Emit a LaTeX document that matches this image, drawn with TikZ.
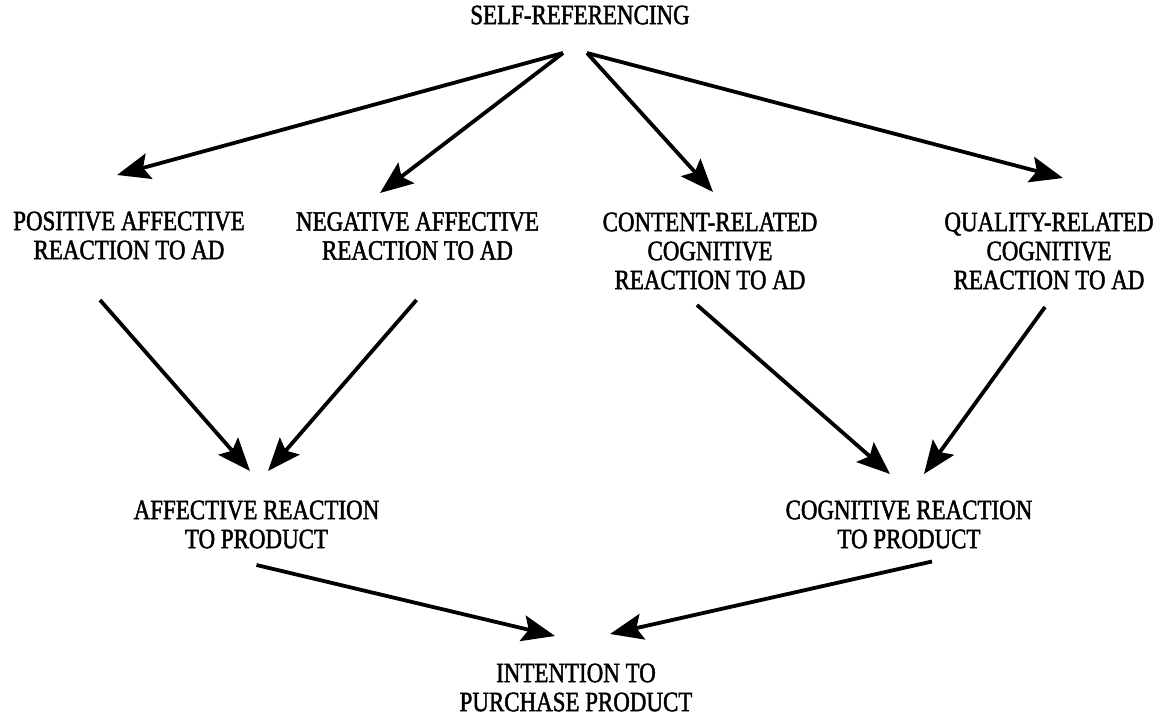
\documentclass[tikz,border=0pt]{standalone}
\usepackage{fontspec}
\setmainfont{Liberation Serif}[FakeStretch=0.82,FakeBold=1.6]
\usepackage{tikz}
\usetikzlibrary{arrows.meta,calc}

\begin{document}
\begin{tikzpicture}[x=1pt, y=-1pt,
  lbl/.style={align=center, inner sep=0pt, font=\fontsize{28}{29}\selectfont},
  arr/.style={-{Stealth[length=33pt, width=26pt, inset=6pt]}, line width=3.8pt},
]
\useasboundingbox (0,0) rectangle (1163,715);

% Top: self-referencing
\node[lbl] (self) at (580,15) {SELF-REFERENCING};

% Middle: reactions to the ad
\node[lbl] (pos) at (129,235.5)  {POSITIVE AFFECTIVE\\REACTION TO AD};
\node[lbl] (neg) at (417.5,236)  {NEGATIVE AFFECTIVE\\REACTION TO AD};
\node[lbl] (con) at (710,251)    {CONTENT-RELATED\\COGNITIVE\\REACTION TO AD};
\node[lbl] (qua) at (1049,251)   {QUALITY-RELATED\\COGNITIVE\\REACTION TO AD};

% Lower: reactions to the product
\node[lbl] (aff) at (256.5,524.5) {AFFECTIVE REACTION\\TO PRODUCT};
\node[lbl] (cog) at (909,524.5)   {COGNITIVE REACTION\\TO PRODUCT};

% Bottom: intention
\node[lbl] (int) at (576,687.5) {INTENTION TO\\PURCHASE PRODUCT};

\draw[arr] ([shift={(-17,38)}]self.center) -- ([shift={(-12,-60.5)}]pos.center);
\draw[arr] ([shift={(-17,38)}]self.center) -- ([shift={(-37.5,-43)}]neg.center);
\draw[arr] ([shift={(7,38)}]self.center)   -- ([shift={(3,-59)}]con.center);
\draw[arr] ([shift={(7,38)}]self.center)   -- ([shift={(14,-73)}]qua.center);

\draw[arr] ([shift={(-29,64.5)}]pos.center) -- ([shift={(-6.5,-53.5)}]aff.center);
\draw[arr] ([shift={(-1,64)}]neg.center)    -- ([shift={(11.5,-53.5)}]aff.center);
\draw[arr] ([shift={(-13,54)}]con.center)   -- ([shift={(-19,-50.5)}]cog.center);
\draw[arr] ([shift={(-4,56)}]qua.center)    -- ([shift={(15,-50.5)}]cog.center);

\draw[arr] ([shift={(0,40.5)}]aff.center) -- ([shift={(-21,-51.5)}]int.center);
\draw[arr] ([shift={(23,37)}]cog.center)  -- ([shift={(34,-53.5)}]int.center);
\end{tikzpicture}
\end{document}
